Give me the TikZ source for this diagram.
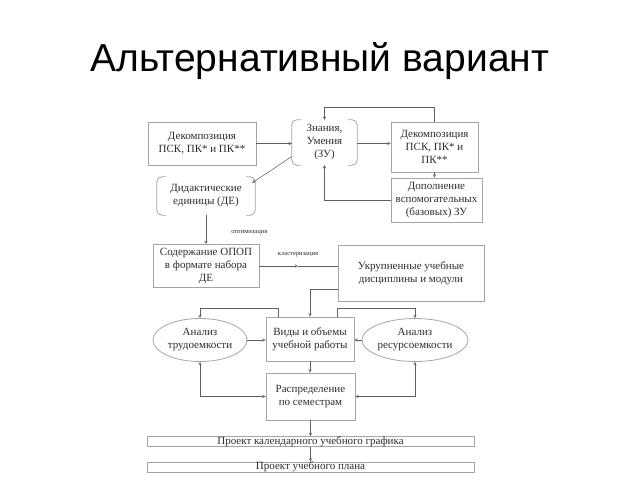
\documentclass[tikz,border=0pt]{standalone}
\usepackage{fontspec}
\setmainfont{Liberation Serif}
\newfontfamily\titlefont{Liberation Sans}
\usepackage{tikz}
\usetikzlibrary{shapes.geometric,arrows,positioning}
\usepackage{xcolor}
\definecolor{boxgray}{RGB}{165,165,165}
\definecolor{linegray}{RGB}{95,95,95}
\definecolor{textgray}{RGB}{45,45,45}

% brackets round a node (left and right halves only)
\newcommand{\bracketsof}[1]{%
  \draw[boxgray, thick, rounded corners=5pt] ([xshift=9pt]#1.north west) -- (#1.north west) -- (#1.south west) -- ([xshift=9pt]#1.south west);
  \draw[boxgray, thick, rounded corners=5pt] ([xshift=-9pt]#1.north east) -- (#1.north east) -- (#1.south east) -- ([xshift=-9pt]#1.south east);}

\begin{document}
\begin{tikzpicture}[
    x=1pt, y=-1pt,
    block/.style={draw=boxgray, thick, inner sep=1pt, align=center, text=textgray, font=\fontsize{11}{13}\selectfont},
    bracketbox/.style={inner sep=1pt, align=center, text=textgray, font=\fontsize{11}{13}\selectfont},
    oval/.style={ellipse, draw=boxgray, thick, inner sep=0pt, align=center, text=textgray, font=\fontsize{11}{13}\selectfont},
    strip/.style={draw=boxgray, thick, minimum width=327pt, minimum height=10pt, inner sep=0pt, text height=7.5pt, text depth=2pt, text=textgray, font=\fontsize{11}{12}\selectfont},
    note/.style={text=textgray, font=\fontsize{6.5}{7}\selectfont, inner sep=1pt},
    line/.style={draw=linegray, line width=0.5pt},
    arrow/.style={->, draw=linegray, line width=0.5pt, >=stealth},
    twoway/.style={<->, draw=linegray, line width=0.5pt, >=stealth}
]
    \useasboundingbox[fill=white] (0,0) rectangle (640,480);

    \node[font=\titlefont\fontsize{39}{46}\selectfont] (title) at (320,61) {Альтернативный вариант};

    \node[block, minimum width=108pt, minimum height=43pt] (dekl) at (202,143.5) {Декомпозиция\\ПСК, ПК* и ПК**};
    \node[bracketbox, minimum width=65pt, minimum height=45pt] (zu) at (324.5,142.5) {Знания,\\Умения\\(ЗУ)};
    \node[block, minimum width=87pt, minimum height=50pt] (dekr) at (434.5,147) {Декомпозиция\\ПСК, ПК* и\\ПК**};
    \node[block, minimum width=91pt, minimum height=44pt] (dop) at (436.5,200) {Дополнение\\вспомогательных\\(базовых) ЗУ};
    \node[bracketbox, minimum width=98pt, minimum height=38pt] (de) at (206,196) {Дидактические\\единицы (ДЕ)};
    \node[block, minimum width=106pt, minimum height=43pt] (sod) at (206,266) {Содержание ОПОП\\в формате набора\\ДЕ};
    \node[block, minimum width=146pt, minimum height=56pt] (ukr) at (411,273) {Укрупненные учебные\\дисциплины и модули};
    \node[oval, minimum width=94pt, minimum height=43pt] (tru) at (200,340) {Анализ\\трудоемкости};
    \node[block, minimum width=88pt, minimum height=44pt] (vid) at (310,339) {Виды и объемы\\учебной работы};
    \node[oval, minimum width=93pt, minimum height=43pt] (res) at (415,340) {Анализ\\ресурсоемкости};
    \node[block, minimum width=89pt, minimum height=47pt] (ras) at (310.5,396.5) {Распределение\\по семестрам};
    \node[strip] (kal) at (310.5,441.5) {Проект календарного учебного графика};
    \node[strip] (pla) at (310.5,467) {Проект учебного плана};

    \bracketsof{zu}
    \bracketsof{de}

    \coordinate (klmid) at (298,266);

    \draw[arrow] (dekl.east) -- (dekl.east -| zu.west);
    \draw[arrow] ([yshift=-14pt]zu.west) -- ([xshift=-3pt,yshift=-6pt]de.north east);
    \draw[arrow] (zu.east |- dekl.east) -- (dekl.east -| dekr.west);
    \draw[arrow] (dekr.north) -- ++(0,-14) -| (zu.north);
    \draw[arrow] (dekr.south) -- (dekr.south |- dop.north);
    \draw[arrow] (dop.west) -| (zu.south);
    \draw[arrow] (de.south) -- node[note, right, pos=0.6, xshift=24pt] {оптимизация} (sod.north);
    \draw[arrow] (sod.east) -- node[note, above, pos=1, yshift=8pt] {кластеризация} (klmid);
    \draw[line] (klmid) -- (klmid -| ukr.west);
    \draw[arrow] ([yshift=-16pt]ukr.west) -| (vid.north);
    \draw[arrow] ([xshift=-32pt]vid.north) -- ++(0,-8) -| (tru.north);
    \draw[arrow] ([xshift=27pt]vid.north) -- ++(0,-8) -| (res.north);
    \draw[arrow] (tru.east) -- (tru.east -| vid.west);
    \draw[arrow] (res.west) -- (res.west -| vid.east);
    \draw[arrow] (vid.south) -- (vid.south |- ras.north);
    \draw[twoway] (tru.south) |- (ras.west);
    \draw[twoway] (res.south) |- (ras.east);
    \draw[arrow] (ras.south) -- (kal.north);
    \draw[arrow] (kal.south) -- (pla.north);
\end{tikzpicture}
\end{document}
